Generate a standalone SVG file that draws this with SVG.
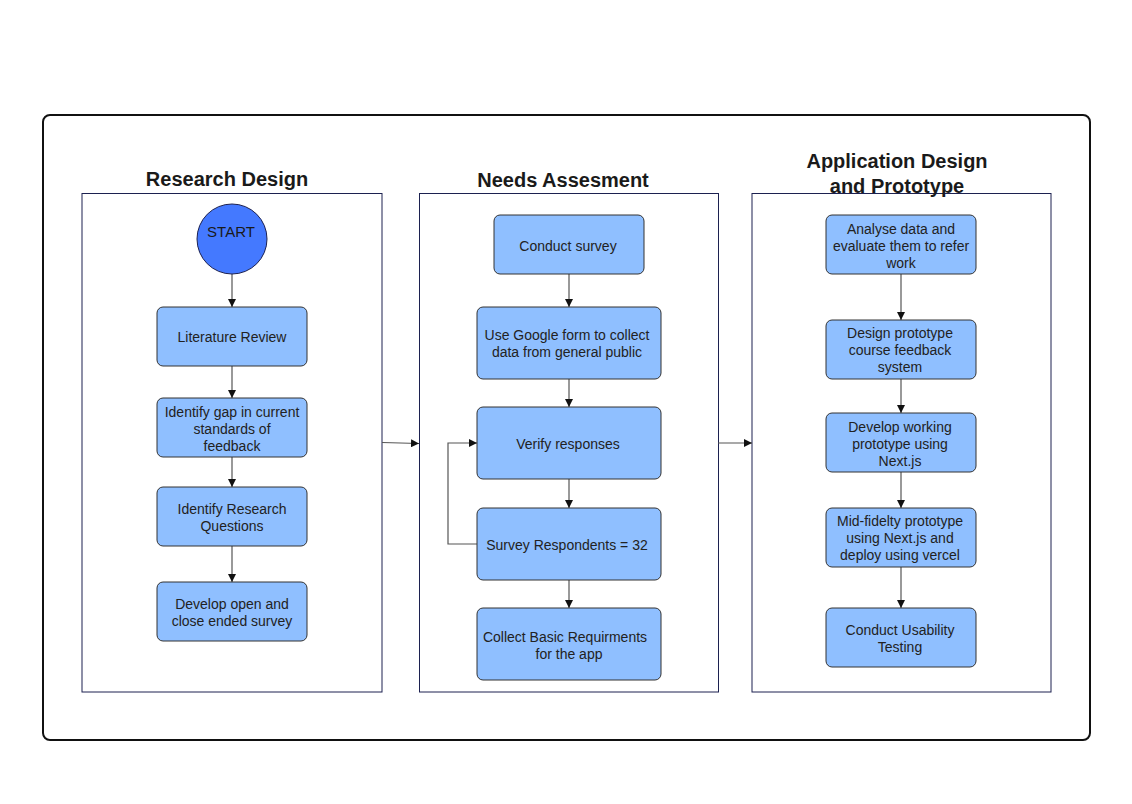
<svg xmlns="http://www.w3.org/2000/svg" width="1132" height="804" viewBox="0 0 1132 804">
<style>
.panel{fill:#fff;stroke:#1c2150;stroke-width:1}
.node{fill:#8fbfff;stroke:#333;stroke-width:1}
.t{font-family:"Liberation Sans",Arial,sans-serif;font-size:14px;fill:#222;text-anchor:middle}
.h{font-family:"Liberation Sans",Arial,sans-serif;font-size:20px;font-weight:bold;fill:#1a1a1a;text-anchor:middle}
.c{fill:none;stroke:#555;stroke-width:1.2}
</style>
<defs>
<marker id="ah" viewBox="0 0 10 10" refX="10" refY="5" markerWidth="8" markerHeight="8" markerUnits="userSpaceOnUse" orient="auto">
<path d="M0,0 L10,5 L0,10 z" fill="#111"/>
</marker>
</defs>
<rect width="1132" height="804" fill="#fff"/>
<rect x="43" y="115" width="1047" height="625" rx="7" fill="none" stroke="#111" stroke-width="2"/>

<g id="panel-research">
<rect class="panel" x="82" y="193.5" width="300" height="498.5"/>
<text class="h" x="227" y="186">Research Design</text>
</g>
<g id="panel-needs">
<rect class="panel" x="419.5" y="193.5" width="299" height="498.5"/>
<text class="h" x="563" y="187">Needs Assesment</text>
</g>
<g id="panel-app">
<rect class="panel" x="752" y="193.5" width="299" height="498.5"/>
<text class="h" x="897" y="168">Application Design</text>
<text class="h" x="897" y="193">and Prototype</text>
</g>

<g id="connectors">
<path class="c" d="M232,274 V307" marker-end="url(#ah)"/>
<path class="c" d="M232,366 V398" marker-end="url(#ah)"/>
<path class="c" d="M232,457 V487" marker-end="url(#ah)"/>
<path class="c" d="M232,546 V582" marker-end="url(#ah)"/>
<path class="c" d="M569,274 V307" marker-end="url(#ah)"/>
<path class="c" d="M569,379 V407" marker-end="url(#ah)"/>
<path class="c" d="M569,479 V508" marker-end="url(#ah)"/>
<path class="c" d="M569,580 V608" marker-end="url(#ah)"/>
<path class="c" d="M477,544 H448 V443 H477" marker-end="url(#ah)"/>
<path class="c" d="M901,274 V320" marker-end="url(#ah)"/>
<path class="c" d="M901,379 V413" marker-end="url(#ah)"/>
<path class="c" d="M901,472 V508" marker-end="url(#ah)"/>
<path class="c" d="M901,567 V608" marker-end="url(#ah)"/>
<path class="c" d="M382,442.5 L419,443.5" marker-end="url(#ah)"/>
<path class="c" d="M718,443 H752" marker-end="url(#ah)"/>
</g>

<g id="start">
<circle cx="232" cy="239" r="35" fill="#4479ff" stroke="#1c2150" stroke-width="1"/>
<text x="231" y="237" font-family="'Liberation Sans',Arial,sans-serif" font-size="15" fill="#1a1a1a" text-anchor="middle">START</text>
</g>
<g id="lit">
<rect class="node" x="157" y="307" width="150" height="59" rx="6"/>
<text class="t" x="232" y="342">Literature Review</text>
</g>
<g id="gap">
<rect class="node" x="157" y="398" width="150" height="59" rx="6"/>
<text class="t" x="232" y="417">Identify gap in current</text>
<text class="t" x="232" y="434">standards of</text>
<text class="t" x="232" y="451">feedback</text>
</g>
<g id="rq">
<rect class="node" x="157" y="487" width="150" height="59" rx="6"/>
<text class="t" x="232" y="514">Identify Research</text>
<text class="t" x="232" y="531">Questions</text>
</g>
<g id="survey-dev">
<rect class="node" x="157" y="582" width="150" height="59" rx="6"/>
<text class="t" x="232" y="609">Develop open and</text>
<text class="t" x="232" y="626">close ended survey</text>
</g>

<g id="conduct">
<rect class="node" x="494" y="215" width="150" height="59" rx="6"/>
<text class="t" x="568" y="251">Conduct survey</text>
</g>
<g id="gform">
<rect class="node" x="477" y="307" width="184" height="72" rx="6"/>
<text class="t" x="567" y="340">Use Google form to collect</text>
<text class="t" x="567" y="357">data from general public</text>
</g>
<g id="verify">
<rect class="node" x="477" y="407" width="184" height="72" rx="6"/>
<text class="t" x="568" y="449">Verify responses</text>
</g>
<g id="respondents">
<rect class="node" x="477" y="508" width="184" height="72" rx="6"/>
<text class="t" x="567" y="550">Survey Respondents = 32</text>
</g>
<g id="collect">
<rect class="node" x="477" y="608" width="184" height="72" rx="6"/>
<text class="t" x="565" y="642">Collect Basic Requirments</text>
<text class="t" x="569" y="659">for the app</text>
</g>

<g id="analyse">
<rect class="node" x="826" y="215" width="150" height="59" rx="6"/>
<text class="t" x="901" y="234">Analyse data and</text>
<text class="t" x="901" y="251">evaluate them to refer</text>
<text class="t" x="901" y="268">work</text>
</g>
<g id="design">
<rect class="node" x="826" y="320" width="150" height="59" rx="6"/>
<text class="t" x="900" y="338">Design prototype</text>
<text class="t" x="900" y="355">course feedback</text>
<text class="t" x="900" y="372">system</text>
</g>
<g id="develop">
<rect class="node" x="826" y="413" width="150" height="59" rx="6"/>
<text class="t" x="900" y="432">Develop working</text>
<text class="t" x="900" y="449">prototype using</text>
<text class="t" x="900" y="466">Next.js</text>
</g>
<g id="midfi">
<rect class="node" x="826" y="508" width="150" height="59" rx="6"/>
<text class="t" x="900" y="526">Mid-fidelty prototype</text>
<text class="t" x="900" y="543">using Next.js and</text>
<text class="t" x="900" y="560">deploy using vercel</text>
</g>
<g id="usability">
<rect class="node" x="826" y="608" width="150" height="59" rx="6"/>
<text class="t" x="900" y="635">Conduct Usability</text>
<text class="t" x="900" y="652">Testing</text>
</g>
</svg>
